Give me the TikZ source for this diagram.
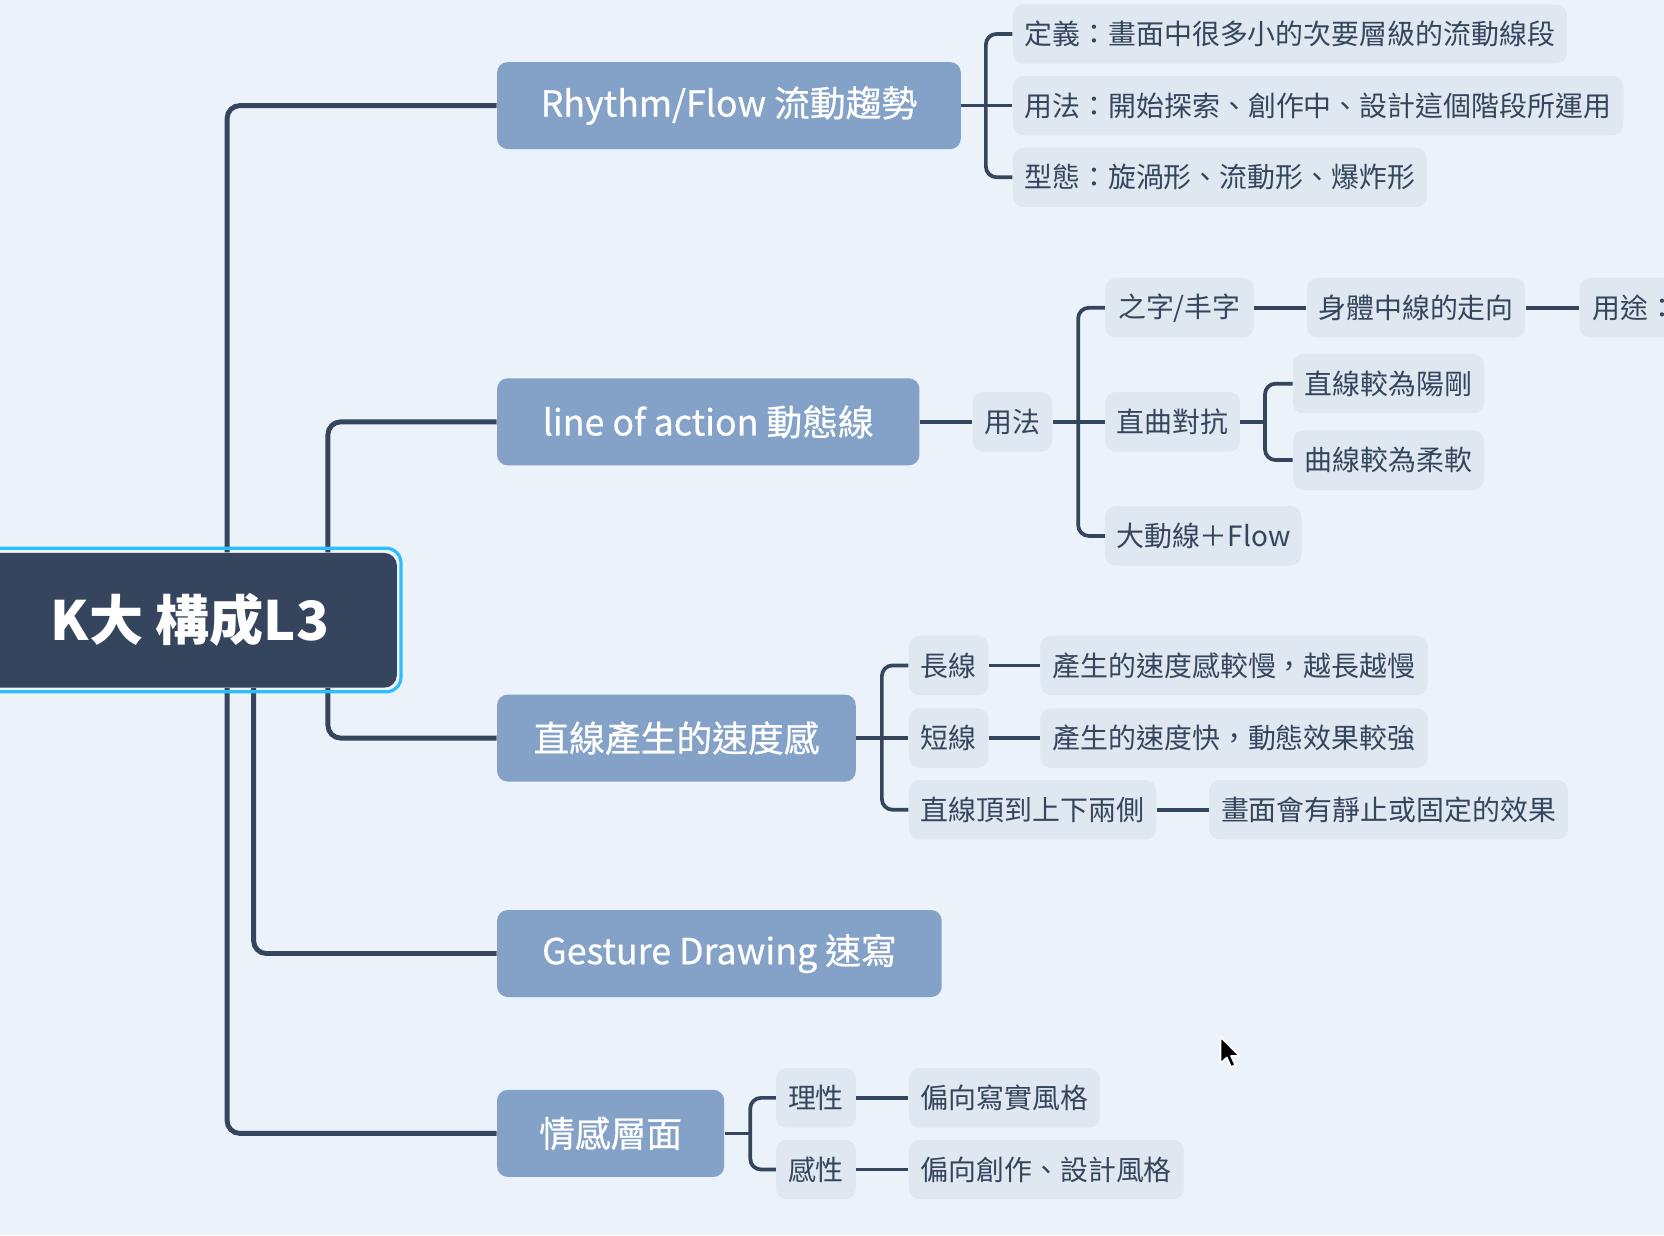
\documentclass[tikz,border=0pt]{standalone}
\usepackage{fontspec}
\setmainfont{Noto Sans CJK TC}
\newfontfamily\medfont[FakeBold=0.6]{Noto Sans CJK TC}
\usepackage{tikz}
\usetikzlibrary{positioning}

\definecolor{bgcol}{RGB}{236,242,249}
\definecolor{linecol}{RGB}{52,69,93}
\definecolor{maincol}{RGB}{132,162,199}
\definecolor{subcol}{RGB}{223,231,240}
\definecolor{selcol}{RGB}{46,189,255}

\tikzset{
	rootbox/.style={fill=linecol,text=white,rounded corners=6pt,minimum height=63.5pt,inner sep=0pt,font=\fontsize{25.5pt}{30pt}\selectfont\bfseries},
	mainbox/.style={fill=maincol,text=white,rounded corners=5pt,minimum height=41pt,inner sep=0pt,anchor=west,font=\medfont\fontsize{16.85pt}{20pt}\selectfont},
	subbox/.style={fill=subcol,text=linecol,rounded corners=5pt,minimum height=28pt,inner sep=0pt,anchor=west,font=\fontsize{13.15pt}{16pt}\selectfont},
	trunk/.style={draw=linecol,line width=2.3pt,rounded corners=6pt},
	branch/.style={draw=linecol,line width=1.75pt,rounded corners=5pt},
	selbox/.style={draw=selcol,line width=1.5pt,rounded corners=7pt}
}

\begin{document}
\begin{tikzpicture}[x=0.5pt,y=-0.5pt]
	\useasboundingbox (0,0) rectangle (1568,1164);
	\clip (0,0) rectangle (1568,1164);
	\fill[bgcol] (0,0) rectangle (1568,1164);

	%root
	\node[rootbox,minimum width=195pt] (ROOT) at (179,584.5) {K大 構成L3};

	%main branches
	\node[mainbox,minimum width=218.5pt] (BR_RF) at (468,99.5) {Rhythm/Flow 流動趨勢};
	\node[mainbox,minimum width=199pt] (BR_LOA) at (468,397.5) {line of action 動態線};
	\node[mainbox,minimum width=169pt] (BR_SPD) at (468,695.5) {直線產生的速度感};
	\node[mainbox,minimum width=209.5pt] (BR_GD) at (468,898.5) {Gesture Drawing 速寫};
	\node[mainbox,minimum width=107pt] (BR_EMO) at (468,1068) {情感層面};

	\coordinate (TR_A) at (214,0);
	\coordinate (TR_B) at (309,0);
	\coordinate (TR_C) at (239,0);
	\draw[trunk] (ROOT.north -| TR_A) |- (BR_RF.west);
	\draw[trunk] (ROOT.north -| TR_B) |- (BR_LOA.west);
	\draw[trunk] (ROOT.south -| TR_B) |- (BR_SPD.west);
	\draw[trunk] (ROOT.south -| TR_C) |- (BR_GD.west);
	\draw[trunk] (ROOT.south -| TR_A) |- (BR_EMO.west);
	\draw[selbox] ([shift={(-30,-4)}]ROOT.north west) rectangle ([shift={(3.5,3.5)}]ROOT.south east);

	%rhythm / flow
	\node[subbox,minimum width=261pt] (RF_N1) at (954,32) {定義：畫面中很多小的次要層級的流動線段};
	\node[subbox,minimum width=287.5pt] (RF_N2) at (954,99.5) {用法：開始探索、創作中、設計這個階段所運用};
	\node[subbox,minimum width=195pt] (RF_N3) at (954,167) {型態：旋渦形、流動形、爆炸形};
	\coordinate (RF_J) at (929,99.5);
	\draw[branch] (BR_RF) -- (RF_N2);
	\draw[branch] (RF_N1.west) -| (RF_J) |- (RF_N3.west);

	%line of action
	\node[subbox,minimum width=37.5pt] (LOA_N1) at (916,397.5) {用法};
	\node[subbox,minimum width=70pt] (LOA_N2) at (1041,290) {之字/丰字};
	\node[subbox,minimum width=103pt] (LOA_N3) at (1231,290) {身體中線的走向};
	\node[subbox,inner xsep=6pt] (LOA_N4) at (1488,290) {用途：};
	\node[subbox,minimum width=63.5pt] (LOA_N5) at (1041,397.5) {直曲對抗};
	\node[subbox,minimum width=90pt] (LOA_N6) at (1218,361.5) {直線較為陽剛};
	\node[subbox,minimum width=90pt] (LOA_N7) at (1218,433.5) {曲線較為柔軟};
	\node[subbox,minimum width=92.5pt] (LOA_N8) at (1041,505) {大動線＋Flow};
	\coordinate (LOA_J) at (1016,397.5);
	\coordinate (LOA_K) at (1192,397.5);
	\draw[branch] (BR_LOA) -- (LOA_N1);
	\draw[branch] (LOA_N1) -- (LOA_N5);
	\draw[branch] (LOA_N2.west) -| (LOA_J) |- (LOA_N8.west);
	\draw[branch] (LOA_N2) -- (LOA_N3);
	\draw[branch] (LOA_N3) -- (LOA_N4);
	\draw[branch] (LOA_N5.east) -- (LOA_K);
	\draw[branch] (LOA_N6.west) -| (LOA_K) |- (LOA_N7.west);

	%speed
	\node[subbox,minimum width=37.5pt] (SPD_N1) at (856,627) {長線};
	\node[subbox,minimum width=182.5pt] (SPD_N2) at (980,627) {產生的速度感較慢，越長越慢};
	\node[subbox,minimum width=37.5pt] (SPD_N3) at (856,695.5) {短線};
	\node[subbox,minimum width=182.5pt] (SPD_N4) at (980,695.5) {產生的速度快，動態效果較強};
	\node[subbox,minimum width=116.5pt] (SPD_N5) at (856,763) {直線頂到上下兩側};
	\node[subbox,minimum width=169pt] (SPD_N6) at (1139,763) {畫面會有靜止或固定的效果};
	\coordinate (SPD_J) at (831,695.5);
	\draw[branch] (BR_SPD) -- (SPD_N3);
	\draw[branch] (SPD_N1.west) -| (SPD_J) |- (SPD_N5.west);
	\draw[branch] (SPD_N1) -- (SPD_N2);
	\draw[branch] (SPD_N3) -- (SPD_N4);
	\draw[branch] (SPD_N5) -- (SPD_N6);

	%emotion
	\node[subbox,minimum width=37.5pt] (EMO_N1) at (731,1034.5) {理性};
	\node[subbox,minimum width=90pt] (EMO_N2) at (856,1034.5) {偏向寫實風格};
	\node[subbox,minimum width=37.5pt] (EMO_N3) at (731,1102) {感性};
	\node[subbox,minimum width=129.5pt] (EMO_N4) at (856,1102) {偏向創作、設計風格};
	\coordinate (EMO_J) at (707,1068);
	\draw[branch] (BR_EMO.east) -- (EMO_J);
	\draw[branch] (EMO_N1.west) -| (EMO_J) |- (EMO_N3.west);
	\draw[branch] (EMO_N1) -- (EMO_N2);
	\draw[branch] (EMO_N3) -- (EMO_N4);

	%cursor
	\begin{scope}[shift={(1150,977)}]
		\filldraw[fill=black,draw=white,line width=0.8pt,line join=round] (0,0) -- (0,25) -- (6,19.5) -- (10,28.5) -- (14,26.5) -- (10,18) -- (18,18) -- cycle;
	\end{scope}
\end{tikzpicture}
\end{document}
